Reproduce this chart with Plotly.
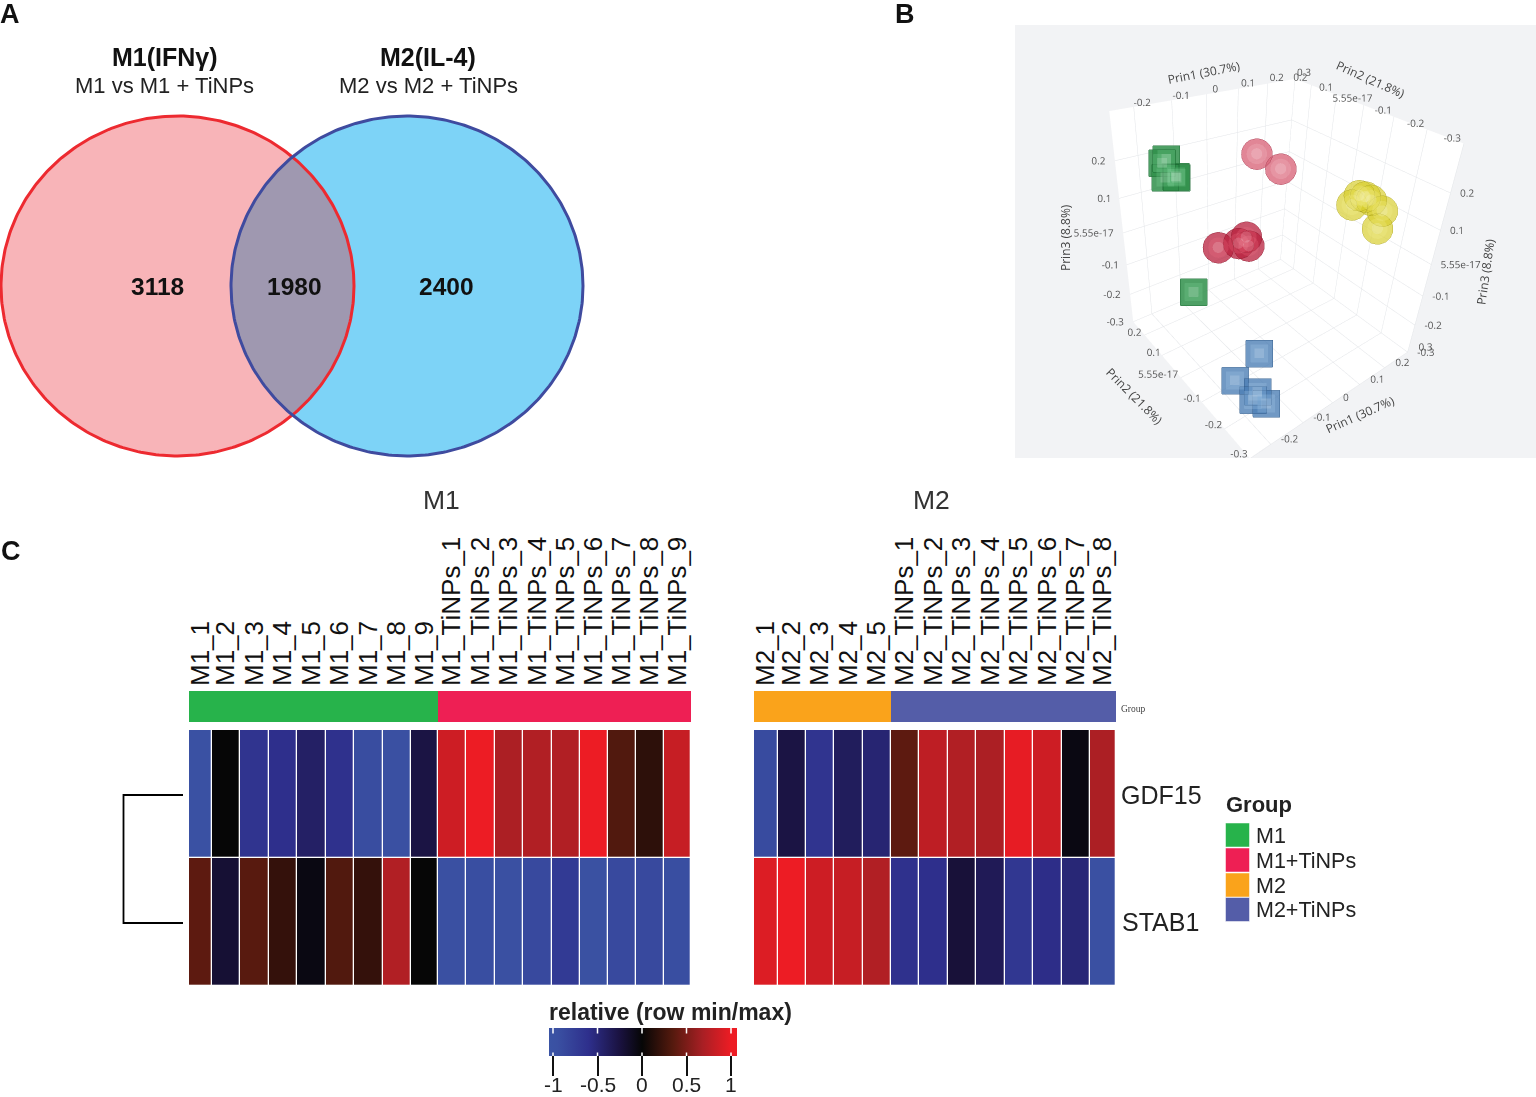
import numpy as np
import plotly.graph_objects as go

W, H = 1536, 1097
TXT = "Liberation Sans"

# ---------- Panel A data
venn_titles = ["M1(IFNγ)", "M2(IL-4)"]
venn_subtitles = ["M1 vs M1 + TiNPs", "M2 vs M2 + TiNPs"]
venn_counts = [3118, 1980, 2400]

# ---------- Panel B data (Prin1, Prin2, Prin3)
m1_x = [-0.168, -0.188, -0.205, -0.182, -0.184, -0.182]
m1_y = [0.187, 0.171, 0.127, 0.119, 0.112, 0.056]
m1_z = [0.215, 0.215, 0.2, 0.2, 0.2, -0.092]
m1t_dark_x = [-0.108, -0.055, -0.021, -0.041]
m1t_dark_y = [0.055, 0.042, 0.055, 0.018]
m1t_dark_z = [0.014, 0.014, 0.014, 0.014]
m1t_pink_x = [0.041, 0.057]
m1t_pink_y = [0.105, 0.028]
m1t_pink_z = [0.21, 0.195]
m2_x = [0.187, 0.249, 0.248, 0.228, 0.181, 0.241]
m2_y = [-0.105, -0.094, -0.116, -0.171, -0.201, -0.08]
m2_z = [0.117, 0.117, 0.117, 0.117, 0.097, 0.117]
m2t_x = [-0.098, -0.20, -0.178, -0.183, -0.201]
m2t_y = [-0.117, -0.154, -0.214, -0.254, -0.227]
m2t_z = [-0.216, -0.216, -0.216, -0.216, -0.216]
tick_x = [-0.2, -0.1, 0, 0.1, 0.2, 0.3]
tick_x_text = ["-0.2", "-0.1", "0", "0.1", "0.2", "0.3"]
tick_y = [-0.3, -0.2, -0.1, 0, 0.1, 0.2]
tick_y_text = ["-0.3", "-0.2", "-0.1", "5.55e-17", "0.1", "0.2"]
tick_z = [-0.3, -0.2, -0.1, 0, 0.1, 0.2]
tick_z_text = ["-0.3", "-0.2", "-0.1", "5.55e-17", "0.1", "0.2"]
range_x, range_y, range_z = [-0.26, 0.3], [-0.3, 0.27], [-0.3, 0.32]

# ---------- Panel C data
m1_samples = [f"M1_{i}" for i in range(1, 10)] + [f"M1_TiNPs_{i}" for i in range(1, 10)]
m2_samples = [f"M2_{i}" for i in range(1, 6)] + [f"M2_TiNPs_{i}" for i in range(1, 9)]
genes = ["GDF15", "STAB1"]
m1_gdf15 = [-0.98, 0.0, -0.65, -0.6, -0.42, -0.62, -0.92, -0.95, -0.27, 0.85, 1.0, 0.7, 0.72, 0.72, 1.0, 0.33, 0.17, 0.82]
m1_stab1 = [0.38, -0.2, 0.36, 0.2, -0.05, 0.33, 0.2, 0.72, 0.0, -0.95, -0.93, -0.95, -0.88, -0.72, -0.97, -0.88, -0.88, -0.93]
m2_gdf15 = [-0.9, -0.27, -0.65, -0.38, -0.48, 0.38, 0.78, 0.72, 0.7, 0.97, 0.85, -0.05, 0.7]
m2_stab1 = [0.92, 1.0, 0.85, 0.82, 0.72, -0.62, -0.6, -0.22, -0.35, -0.68, -0.58, -0.5, -0.95]
group_names = ["M1", "M1+TiNPs", "M2", "M2+TiNPs"]
group_colors = ["#27b34b", "#ee1f54", "#faa31b", "#545da8"]
m1_groups = [0] * 9 + [1] * 9
m2_groups = [2] * 5 + [3] * 8
cb_ticks = [-1, -0.5, 0, 0.5, 1]
cb_text = ["-1", "-0.5", "0", "0.5", "1"]

# column boundaries of the two heat maps, in page pixels
m1_edges = [189, 211.5, 240, 268.5, 297, 325.5, 354, 382.5, 411, 438, 466, 494.5, 523, 551.5, 580, 608, 636, 664, 691]
m2_edges = [754, 777.5, 805.5, 834, 862.5, 890.5, 919, 947.5, 976, 1004.5, 1033, 1061.5, 1089.5, 1116]
ZMIN, ZMAX = -1.045, 1.067
stops = [(-1.045, "#3a53a4"), (-0.95, "#3a50a2"), (-0.6, "#2e2f8c"), (-0.25, "#1a1240"), (0, "#060606"),
         (0.35, "#561a0e"), (0.68, "#a81f24"), (1.0, "#ed1c24"), (1.067, "#ed1c24")]
colorscale = [[(v - ZMIN) / (ZMAX - ZMIN), c] for v, c in stops]

fig = go.Figure()


def xd(a, b):
    return [a / W, b / W]


def yd(top, bottom):
    return [(H - bottom) / H, (H - top) / H]


def ring(cx, cy, rx, ry):
    t = np.linspace(0, 2 * np.pi, 361)
    return cx + rx * np.cos(t), cy + ry * np.sin(t)


# ---------- Venn on a page-pixel axis
lx, ly = ring(177.5, 286, 176.5, 170)
rx, ry = ring(407, 286, 176, 170)
fig.add_trace(go.Scatter(x=lx, y=ly, mode="lines", fill="toself", fillcolor="#f8b4b8", line=dict(width=0)))
fig.add_trace(go.Scatter(x=rx, y=ry, mode="lines", fill="toself", fillcolor="#7dd3f7", line=dict(width=0)))
mask_r = (lx - 407) ** 2 / 176 ** 2 + (ly - 286) ** 2 / 170 ** 2 <= 1
mask_l = (rx - 177.5) ** 2 / 176.5 ** 2 + (ry - 286) ** 2 / 170 ** 2 <= 1
lens = np.vstack([np.column_stack([lx[mask_r], ly[mask_r]]), np.column_stack([rx[mask_l], ry[mask_l]])])
lens = lens[np.argsort(np.arctan2(lens[:, 1] - 286, lens[:, 0] - 292))]
fig.add_trace(go.Scatter(x=lens[:, 0], y=lens[:, 1], mode="lines", fill="toself", fillcolor="#9f98b0", line=dict(width=0)))
fig.add_trace(go.Scatter(x=lx, y=ly, mode="lines", line=dict(color="#ed2a30", width=3)))
fig.add_trace(go.Scatter(x=rx, y=ry, mode="lines", line=dict(color="#3f4b9f", width=3)))

# dendrogram
fig.add_trace(go.Scatter(x=[183, 123.5, 123.5, 183], y=[795, 795, 923, 923], mode="lines",
                         line=dict(color="#000000", width=1.8)))

# group legend
legend_y = [835, 860, 885, 909.5]
fig.add_trace(go.Scatter(x=[1237.5] * 4, y=legend_y, mode="markers",
                         marker=dict(symbol="square", size=24, color=group_colors, line=dict(color="white", width=0.5))))

# ---------- Heat maps
for name, edges, samples, groups, gdf, stab, xa, ya_bar, ya_main in [
    ("M1", m1_edges, m1_samples, m1_groups, m1_gdf15, m1_stab1, "x2", "y2", "y3"),
    ("M2", m2_edges, m2_samples, m2_groups, m2_gdf15, m2_stab1, "x3", "y4", "y5"),
]:
    fig.add_trace(go.Heatmap(x=edges, y=[0, 1], z=[groups], xaxis=xa, yaxis=ya_bar, zmin=0, zmax=3, showscale=False,
                             colorscale=[[i / 3, c] for i, c in enumerate(group_colors)]))
    fig.add_trace(go.Heatmap(x=edges, y=[0, 1, 2], z=[stab, gdf], xaxis=xa, yaxis=ya_main, coloraxis="coloraxis",
                             xgap=1.3, ygap=1.3))


def centers(e):
    return [(e[i] + e[i + 1]) / 2 for i in range(len(e) - 1)]


hide = dict(visible=False, fixedrange=True)
col_axis = dict(side="top", tickangle=-90, ticks="", showgrid=False, zeroline=False, showline=False, fixedrange=True,
                tickfont=dict(family=TXT, size=26, color="#111111"), ticklabelstandoff=4)

scene_axis = dict(showbackground=True, backgroundcolor="#ffffff", gridcolor="#e3e5e8", gridwidth=1, showline=False,
                  zeroline=False, showspikes=False, ticks="", title=dict(text=""), showticklabels=False)

fig.update_layout(
    width=W, height=H, margin=dict(l=0, r=0, t=0, b=0, autoexpand=False), paper_bgcolor="white", plot_bgcolor="rgba(0,0,0,0)",
    showlegend=False,
    xaxis=dict(domain=[0, 1], range=[0, W], **hide),
    yaxis=dict(domain=[0, 1], range=[H, 0], **hide),
    xaxis2=dict(domain=xd(189, 691), range=[189, 691], tickmode="array", tickvals=centers(m1_edges), ticktext=m1_samples,
                anchor="y2", **col_axis),
    yaxis2=dict(domain=yd(691, 722), range=[0, 1], anchor="x2", **hide),
    yaxis3=dict(domain=yd(730, 986), range=[0, 2], anchor="x2", **hide),
    xaxis3=dict(domain=xd(754, 1116), range=[754, 1116], tickmode="array", tickvals=centers(m2_edges), ticktext=m2_samples,
                anchor="y4", **col_axis),
    yaxis4=dict(domain=yd(691, 722), range=[0, 1], anchor="x3", **hide),
    yaxis5=dict(domain=yd(730, 986), range=[0, 2], anchor="x3", **hide),
    coloraxis=dict(cmin=ZMIN, cmax=ZMAX, colorscale=colorscale,
                   colorbar=dict(orientation="h", lenmode="pixels", len=188, thicknessmode="pixels", thickness=28,
                                 x=643 / W, xanchor="center", y=(H - 1028) / H, yanchor="top", xpad=0, ypad=0,
                                 outlinewidth=0, tickmode="array", tickvals=cb_ticks, ticktext=[" "] * 5,
                                 ticks="outside", ticklen=20, tickwidth=1.5, tickcolor="#111111",
                                 tickfont=dict(family=TXT, size=8, color="#222222"))),
    scene=dict(domain=dict(x=xd(1015, 1536), y=yd(25, 458)), bgcolor="#f2f3f5", aspectmode="manual",
               aspectratio=dict(x=1, y=1, z=1.12),
               camera=dict(eye=dict(x=-1.327, y=-1.486, z=1.292), center=dict(x=0, y=0, z=0.02),
                           up=dict(x=-0.045, y=0.04, z=1), projection=dict(type="perspective")),
               xaxis=dict(range=range_x, tickvals=tick_x, **scene_axis),
               yaxis=dict(range=range_y, tickvals=tick_y, **scene_axis),
               zaxis=dict(range=range_z, tickvals=tick_z, **scene_axis)),
)


# ---------- PCA markers
def pca(x, y, z, symbol, size, base, edge, glow, op):
    fig.add_trace(go.Scatter3d(x=x, y=y, z=z, mode="markers", opacity=op,
                               marker=dict(symbol=symbol, size=size, color=base, line=dict(color=edge, width=1.5))))
    fig.add_trace(go.Scatter3d(x=x, y=y, z=z, mode="markers", opacity=0.25,
                               marker=dict(symbol=symbol, size=size * 0.66, color=glow, line=dict(width=0))))
    fig.add_trace(go.Scatter3d(x=x, y=y, z=z, mode="markers", opacity=0.16,
                               marker=dict(symbol=symbol, size=size * 0.36, color="#ffffff", line=dict(width=0))))


pca(m1_x, m1_y, m1_z, "square", 14, "#2f8f4a", "#1c6a33", "#7fd39a", 0.85)
pca(m1t_pink_x, m1t_pink_y, m1t_pink_z, "circle", 18, "#d9687c", "#a83a50", "#f6c0ca", 0.8)
pca(m1t_dark_x, m1t_dark_y, m1t_dark_z, "circle", 18, "#b81f3c", "#8c1a2e", "#ee6a80", 0.75)
pca(m2_x, m2_y, m2_z, "circle", 18, "#d8cf30", "#a8a020", "#f4ee90", 0.7)
pca(m2t_x, m2t_y, m2t_z, "square", 14, "#4d7fb5", "#2c5584", "#a9cdec", 0.8)

# tick labels on all visible edges of the cube
gray = dict(family="Open Sans", size=10, color="#555555")
n = 6
for xs, ys, zs, txt, pos in [
    (tick_x, [0.23] * n, [0.31] * n, tick_x_text, "top center"),
    ([0.26] * n, tick_y, [0.31] * n, tick_y_text, "top center"),
    ([range_x[1]] * n, [range_y[0]] * n, tick_z, tick_z_text, "middle right"),
    ([range_x[0]] * n, [range_y[1]] * n, tick_z, tick_z_text, "middle left"),
    (tick_x, [range_y[0]] * n, [-0.28] * n, tick_x_text, "middle right"),
    ([-0.24] * n, tick_y, [range_z[0]] * n, tick_y_text, "middle left"),
]:
    fig.add_trace(go.Scatter3d(x=xs, y=ys, z=zs, mode="text", text=txt, textposition=pos, textfont=gray))

# ---------- Annotations
ann = []


def T(x, y, text, size, family=TXT, color="#111111", angle=0, anchor="center"):
    ann.append(dict(x=x, y=y, xref="x", yref="y", text=text, showarrow=False, textangle=angle,
                    font=dict(family=family, size=size, color=color), xanchor=anchor, yanchor="middle"))


T(10, 14, "<b>A</b>", 27)
T(905, 14, "<b>B</b>", 27)
T(11, 551, "<b>C</b>", 27)
T(164.5, 57, f"<b>{venn_titles[0]}</b>", 25)
T(428, 57, f"<b>{venn_titles[1]}</b>", 25)
T(164.5, 85, venn_subtitles[0], 22, color="#222222")
T(428, 85, venn_subtitles[1], 22, color="#222222")
T(157.5, 286, f"<b>{venn_counts[0]}</b>", 24.5)
T(294.5, 286, f"<b>{venn_counts[1]}</b>", 24.5)
T(446, 286, f"<b>{venn_counts[2]}</b>", 24.5)
T(441, 500, "M1", 26.5, color="#333333")
T(931, 500, "M2", 26.5, color="#333333")
T(1133, 709, "Group", 9.5, family="Liberation Serif", color="#444444")
T(1161.5, 795, genes[0], 25, color="#222222")
T(1160, 922, genes[1], 25, color="#222222")
T(1258.5, 804, "<b>Group</b>", 22, color="#222222")
for g, yy in zip(group_names, legend_y):
    T(1254, yy + 0.5, g, 21.5, color="#222222", anchor="left")
T(670.5, 1012, "<b>relative (row min/max)</b>", 23, color="#222222")
for v, t in zip(cb_ticks, cb_text):
    xx = 642 + v * 89
    T(xx, 1084.5, t, 21, color="#222222")
    for yy, dy in [(1028, 7), (1056, -5)]:
        ann.append(dict(x=xx, y=yy, xref="x", yref="y", ax=0, ay=dy, axref="pixel", ayref="pixel", text="",
                        showarrow=True, arrowhead=0, arrowwidth=1.5, arrowcolor="#ffffff"))
sc = "Open Sans"
T(1204, 72, "Prin1 (30.7%)", 12, sc, "#444444", -11)
T(1371, 79, "Prin2 (21.8%)", 12, sc, "#444444", 24)
T(1065, 238, "Prin3 (8.8%)", 12, sc, "#444444", -90)
T(1485, 272, "Prin3 (8.8%)", 12, sc, "#444444", -82)
T(1135, 396, "Prin2 (21.8%)", 12, sc, "#444444", 45)
T(1360, 414, "Prin1 (30.7%)", 12, sc, "#444444", -24)
fig.update_layout(annotations=ann)

fig.write_html("out.html", config=dict(displayModeBar=False), post_script="document.body.style.margin='0';")
